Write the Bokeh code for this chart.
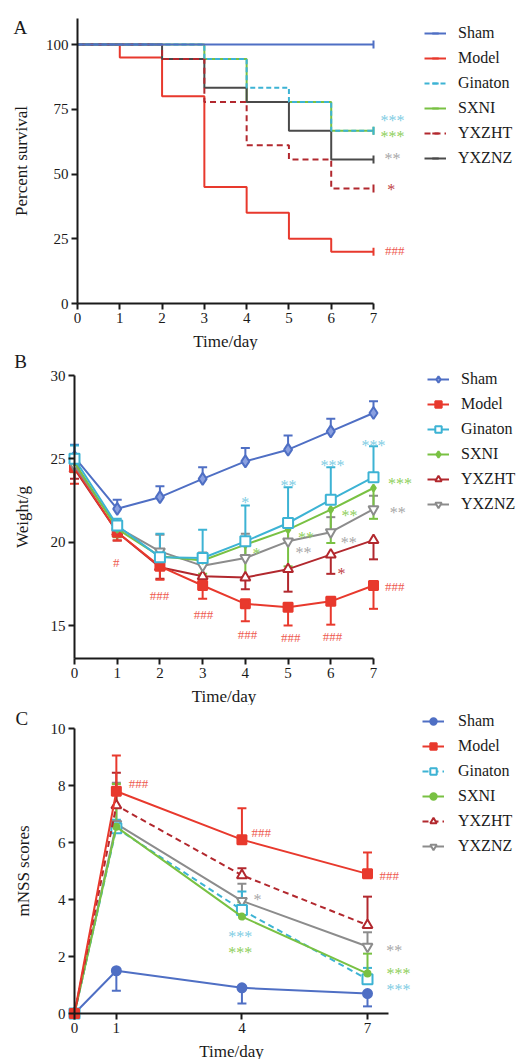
import math
from bokeh.plotting import figure
from bokeh.models import (ColumnDataSource, Whisker, TeeHead, Legend, LegendItem,
                          LabelSet, Label, FixedTicker, Range1d)
from bokeh.layouts import column
from bokeh.embed import file_html
from bokeh.resources import INLINE

FONT = "Liberation Serif"

groups = ["Sham", "Model", "Ginaton", "SXNI", "YXZHT", "YXZNZ"]

# ---------------- Panel A: survival ----------------
days_a = [0, 1, 2, 3, 4, 5, 6, 7]
surv_sham = [100, 100, 100, 100, 100, 100, 100, 100]
surv_model = [100, 95, 80, 45, 35, 25, 20, 20]
surv_ginaton = [100, 100, 100, 94.4, 83.3, 77.8, 66.7, 66.7]
surv_sxni = [100, 100, 100, 94.4, 77.8, 77.8, 66.7, 66.7]
surv_yxzht = [100, 100, 94.4, 77.8, 61.1, 55.6, 44.4, 44.4]
surv_yxznz = [100, 100, 94.4, 83.3, 77.8, 66.7, 55.6, 55.6]

ann_a_text = ["***", "***", "**", "*", "###"]
ann_a_group = ["Ginaton", "SXNI", "YXZNZ", "YXZHT", "Model"]
ann_a_x = [7.45, 7.45, 7.45, 7.42, 7.5]
ann_a_y = [70.5, 64.3, 55.8, 44.0, 20.5]

# ---------------- Panel B: weight ----------------
days_b = [0, 1, 2, 3, 4, 5, 6, 7]
w_sham = [25.1, 22.0, 22.7, 23.8, 24.85, 25.55, 26.65, 27.75]
w_sham_err = [0.75, 0.55, 0.65, 0.7, 0.8, 0.85, 0.75, 0.7]
w_model = [24.5, 20.6, 18.55, 17.4, 16.3, 16.1, 16.45, 17.4]
w_model_err = [1.0, 0.5, 0.8, 0.8, 1.05, 1.1, 1.4, 1.4]
w_ginaton = [25.0, 21.0, 19.1, 19.05, 20.05, 21.15, 22.55, 23.9]
w_ginaton_err = [0.8, 0.4, 1.4, 1.7, 2.15, 2.15, 1.95, 1.85]
w_sxni = [24.8, 20.8, 19.15, 18.9, 19.85, 20.75, 21.95, 23.25]
w_sxni_err = [0.6, 0.5, 0.6, 0.8, 1.95, 2.2, 2.0, 1.85]
w_yxzht = [24.4, 20.6, 18.5, 17.95, 17.88, 18.38, 19.25, 20.12]
w_yxzht_err = [0.6, 0.5, 0.7, 0.6, 0.7, 1.35, 1.15, 1.15]
w_yxznz = [24.6, 20.9, 19.45, 18.58, 19.05, 20.05, 20.6, 21.98]
w_yxznz_err = [0.5, 0.4, 1.0, 0.8, 1.45, 0.9, 0.9, 0.8]
err_dir_b = {"Sham": 1, "Model": -1, "Ginaton": 1, "SXNI": -1, "YXZHT": -1, "YXZNZ": 1}

ann_b_text = ["#", "###", "###", "###", "###", "###", "###",
              "*", "**", "***", "***", "***",
              "*", "**", "**",
              "**", "**", "**", "*"]
ann_b_group = ["Model"] * 7 + ["Ginaton"] * 4 + ["SXNI"] * 4 + ["YXZNZ"] * 3 + ["YXZHT"]
ann_b_x = [0.98, 1.99, 3.02, 4.05, 5.06, 6.04, 7.5,
           4.0, 5.01, 6.04, 7.0, 7.62,
           4.26, 5.42, 6.44,
           5.36, 6.42, 7.57, 6.25]
ann_b_y = [18.78, 16.8, 15.66, 14.46, 14.28, 14.34, 17.34,
           22.4, 23.4, 24.6, 25.8, 23.5,
           19.3, 20.3, 21.6,
           19.4, 20.0, 21.8, 18.1]

# ---------------- Panel C: mNSS ----------------
days_c = [0, 1, 4, 7]
s_sham = [0, 1.5, 0.9, 0.7]
s_sham_err = [0, 0.7, 0.55, 0.45]
s_model = [0, 7.8, 6.1, 4.9]
s_model_err = [0, 1.25, 1.1, 0.75]
s_ginaton = [0, 6.5, 3.63, 1.2]
s_ginaton_err = [0, 0.3, 0.65, 0.4]
s_sxni = [0, 6.55, 3.4, 1.4]
s_sxni_err = [0, 1.5, 0.5, 0.7]
s_yxzht = [0, 7.3, 4.85, 3.1]
s_yxzht_err = [0, 1.15, 0.25, 1.0]
s_yxznz = [0, 6.65, 3.95, 2.35]
s_yxznz_err = [0, 1.45, 0.6, 0.5]
err_dir_c = {"Sham": -1, "Model": 1, "Ginaton": 1, "SXNI": 1, "YXZHT": 1, "YXZNZ": 1}

ann_c_text = ["###", "###", "###", "*", "***", "***", "**", "***", "***"]
ann_c_group = ["Model", "Model", "Model", "YXZNZ", "Ginaton", "SXNI", "YXZNZ", "SXNI", "Ginaton"]
ann_c_x = [1.53, 4.46, 7.52, 4.37, 3.96, 3.96, 7.64, 7.74, 7.74]
ann_c_y = [8.07, 6.35, 4.84, 4.0, 2.7, 2.15, 2.2, 1.4, 0.85]

colors = {"Sham": "#4f6fc4", "Model": "#e8392d", "Ginaton": "#3db3d4",
          "SXNI": "#79c143", "YXZHT": "#b2282e", "YXZNZ": "#8c8c8c"}
colors_a = dict(colors, YXZNZ="#4a4a4a")
ann_colors = {"Sham": "#4f6fc4", "Model": "#ee5a4f", "Ginaton": "#7fcde3",
              "SXNI": "#8fcf5c", "YXZHT": "#c0403f", "YXZNZ": "#a8a8a8"}

W = 516


def lin_range(v0, p0, v1, p1, size):
    """Range whose ends map to pixel 0 and pixel size, given two anchor pixels."""
    k = (v1 - v0) / (p1 - p0)
    a = v0 + (0 - p0) * k
    b = v0 + (size - p0) * k
    return Range1d(min(a, b), max(a, b))


def make_fig(h, xr, yr, xb, yb, xloc, yloc):
    p = figure(width=W, height=h, x_range=xr, y_range=yr, output_backend="svg",
               toolbar_location=None, min_border=0, min_border_left=0,
               min_border_right=0, min_border_top=0, min_border_bottom=0)
    p.xaxis.bounds = xb
    p.yaxis.bounds = yb
    p.xaxis.fixed_location = xloc
    p.yaxis.fixed_location = yloc
    return p


def style(p, xlabel, ylabel, ystandoff):
    for ax in (p.xaxis[0], p.yaxis[0]):
        ax.axis_line_width = 2
        ax.axis_line_color = "#1a1a1a"
        ax.major_tick_line_width = 2
        ax.major_tick_line_color = "#1a1a1a"
        ax.major_tick_out = 6
        ax.major_tick_in = 0
        ax.minor_tick_line_color = None
        ax.major_label_text_font = FONT
        ax.major_label_text_font_size = "15px"
        ax.major_label_text_color = "#1a1a1a"
        ax.major_label_standoff = 3
        ax.axis_label_text_font = FONT
        ax.axis_label_text_font_size = "17px"
        ax.axis_label_text_font_style = "normal"
        ax.axis_label_text_color = "#1a1a1a"
        ax.axis_label_standoff = 6
    p.yaxis.axis_label_standoff = ystandoff
    p.xaxis.axis_label = xlabel
    p.yaxis.axis_label = ylabel
    p.xgrid.grid_line_color = None
    p.ygrid.grid_line_color = None
    p.outline_line_color = None


def make_legend(p, items, vx, vy, standoff):
    lg = Legend(items=items, location=(vx, vy), orientation="vertical",
                label_text_font=FONT, label_text_font_size="16px",
                label_text_color="#1a1a1a", label_height=16, glyph_height=16,
                glyph_width=22, spacing=7, padding=0, margin=0,
                label_standoff=standoff, border_line_color=None,
                background_fill_alpha=0)
    p.add_layout(lg, "center")


def add_annotations(p, xs, ys, texts, grps):
    src = ColumnDataSource(dict(x=xs, y=ys, text=texts,
                                color=[ann_colors[g] for g in grps],
                                size=["13px" if t.startswith("#") else "16px" for t in texts]))
    ls = LabelSet(x="x", y="y", text="text", source=src, text_color="color",
                  text_font=FONT, text_font_size="size", text_align="center",
                  text_baseline="middle")
    p.add_layout(ls)


def panel_letter(p, x, y, t):
    p.add_layout(Label(x=x, y=y, text=t, text_font=FONT, text_font_size="19px",
                       text_align="center", text_baseline="middle", text_color="#1a1a1a"))


# ---------------- build A ----------------
HA = 350
pA = make_fig(HA, lin_range(0, 77, 7, 373, W), lin_range(100, 44, 0, 303, HA),
              (0, 7), (0, 110), 0, 0)
style(pA, "Time/day", "Percent survival", 12)
pA.xaxis.ticker = FixedTicker(ticks=days_a)
pA.yaxis.ticker = FixedTicker(ticks=[0, 25, 50, 75, 100])

surv = {"Sham": surv_sham, "Model": surv_model, "Ginaton": surv_ginaton,
        "SXNI": surv_sxni, "YXZHT": surv_yxzht, "YXZNZ": surv_yxznz}
dash_a = {"Ginaton": "5 3", "YXZHT": "6 4"}
rend_a = {}
for name in ["Model", "SXNI", "YXZNZ", "YXZHT", "Ginaton", "Sham"]:
    c = colors_a[name]
    r1 = pA.step(days_a, surv[name], mode="after", line_color=c, line_width=2,
                 line_dash=dash_a.get(name, "solid"))
    r2 = pA.scatter([days_a[-1]], [surv[name][-1]], marker="dash", angle=math.pi / 2,
                    size=8, line_color=c, line_width=2)
    rend_a[name] = [r1, r2]
make_legend(pA, [LegendItem(label=g, renderers=rend_a[g]) for g in groups], 424, HA - 36 - 131, 12)
add_annotations(pA, ann_a_x, ann_a_y, ann_a_text, ann_a_group)
panel_letter(pA, -1.35, 106.6, "A")

# ---------------- build B ----------------
HB = 355
pB = make_fig(HB, lin_range(0, 74, 7, 373, W), lin_range(30, 25, 15, 275, HB),
              (0, 7), (13, 30), 13, 0)
style(pB, "Time/day", "Weight/g", 16)
pB.xaxis.ticker = FixedTicker(ticks=days_b)
pB.yaxis.ticker = FixedTicker(ticks=[15, 20, 25, 30])

wdata = {"Sham": (w_sham, w_sham_err), "Model": (w_model, w_model_err),
         "Ginaton": (w_ginaton, w_ginaton_err), "SXNI": (w_sxni, w_sxni_err),
         "YXZHT": (w_yxzht, w_yxzht_err), "YXZNZ": (w_yxznz, w_yxznz_err)}

markers = {"Sham": dict(marker="diamond", size=12, fill="#8aa0e0"),
           "Model": dict(marker="square", size=9, fill=None),
           "Ginaton": dict(marker="square", size=10, fill="white"),
           "SXNI": dict(marker="diamond", size=7, fill=None),
           "YXZHT": dict(marker="triangle", size=10, fill="white"),
           "YXZNZ": dict(marker="inverted_triangle", size=10, fill="white")}
markers_c = dict(markers, Sham=dict(marker="circle", size=9, fill=None),
                 SXNI=dict(marker="circle", size=6, fill=None))


def add_series(p, days, vals, errs, direction, name, mk, dash="solid"):
    c = colors[name]
    r1 = p.line(days, vals, line_color=c, line_width=2, line_dash=dash)
    fill = mk["fill"] if mk["fill"] is not None else c
    r2 = p.scatter(days, vals, marker=mk["marker"], size=mk["size"], line_color=c,
                   fill_color=fill, line_width=2)
    ends = [v + direction * e for v, e in zip(vals, errs)]
    src = ColumnDataSource(dict(x=days, a=vals, b=ends))
    head = TeeHead(size=9, line_color=c, line_width=2)
    if direction > 0:
        w = Whisker(source=src, base="x", lower="a", upper="b", upper_head=head,
                    lower_head=None, line_color=c, line_width=2)
    else:
        w = Whisker(source=src, base="x", lower="b", upper="a", lower_head=head,
                    upper_head=None, line_color=c, line_width=2)
    p.add_layout(w)
    return [r1, r2]


rend_b = {}
for name in ["Sham", "YXZHT", "Model", "YXZNZ", "SXNI", "Ginaton"]:
    v, e = wdata[name]
    rend_b[name] = add_series(pB, days_b, v, e, err_dir_b[name], name, markers[name])
make_legend(pB, [LegendItem(label=g, renderers=rend_b[g]) for g in groups], 427, HB - 32 - 131, 12)
add_annotations(pB, ann_b_x, ann_b_y, ann_b_text, ann_b_group)
panel_letter(pB, -1.26, 30.85, "B")

# ---------------- build C ----------------
HC = 354
pC = make_fig(HC, lin_range(0, 74, 7, 367, W), lin_range(10, 23, 0, 308, HC),
              (0, 7.5), (0, 10), 0, 0)
style(pC, "Time/day", "mNSS scores", 15)
pC.xaxis.ticker = FixedTicker(ticks=days_c)
pC.yaxis.ticker = FixedTicker(ticks=[0, 2, 4, 6, 8, 10])

sdata = {"Sham": (s_sham, s_sham_err), "Model": (s_model, s_model_err),
         "Ginaton": (s_ginaton, s_ginaton_err), "SXNI": (s_sxni, s_sxni_err),
         "YXZHT": (s_yxzht, s_yxzht_err), "YXZNZ": (s_yxznz, s_yxznz_err)}
dash_c = {"Ginaton": "6 4", "YXZHT": "6 4"}
rend_c = {}
for name in ["Sham", "YXZNZ", "Ginaton", "SXNI", "YXZHT", "Model"]:
    v, e = sdata[name]
    rend_c[name] = add_series(pC, days_c, v, e, err_dir_c[name], name, markers_c[name],
                              dash_c.get(name, "solid"))
make_legend(pC, [LegendItem(label=g, renderers=rend_c[g]) for g in groups], 422, HC - 19 - 131, 14)
add_annotations(pC, ann_c_x, ann_c_y, ann_c_text, ann_c_group)
panel_letter(pC, -1.26, 10.36, "C")

layout = column(pA, pB, pC)
open("out.html", "w").write(file_html(layout, INLINE))
